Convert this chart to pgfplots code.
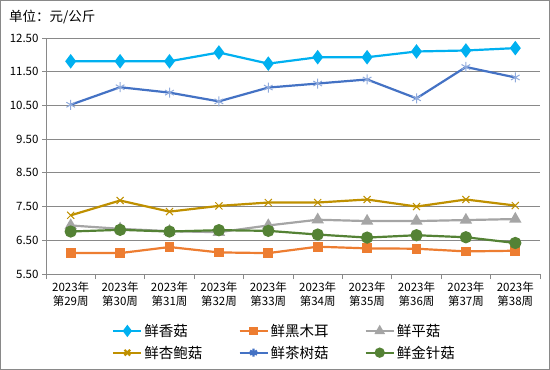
\documentclass[border=0pt]{standalone}
\usepackage{fontspec}
\setmainfont{Noto Sans CJK SC}
\usepackage{pgfplots}
\pgfplotsset{compat=1.18}
\definecolor{cxg}{HTML}{00B0F0}
\definecolor{chme}{HTML}{ED7D31}
\definecolor{cpg}{HTML}{A5A5A5}
\definecolor{cxbg}{HTML}{BF9000}
\definecolor{ccsg}{HTML}{4472C4}
\definecolor{ccsgm}{HTML}{8FAADC}
\definecolor{cjzg}{HTML}{548235}
\definecolor{cgrid}{HTML}{898989}
\newcommand{\legbox}[1]{\makebox[60bp][l]{#1}}
\begin{document}
\begin{tikzpicture}
\useasboundingbox (0,0) rectangle (550bp,370bp);
\draw[cgrid,line width=1bp] (0.5bp,0.5bp) rectangle (549.5bp,369.5bp);
\node[anchor=west,font=\fontsize{13.5bp}{16bp}\selectfont,inner sep=0] at (9bp,353bp) {单位：元/公斤};
\begin{axis}[
  at={(46bp,96bp)}, anchor=south west,
  scale only axis, width=494bp, height=236bp,
  xmin=-0.5, xmax=9.5, ymin=5.5, ymax=12.5,
  axis x line*=bottom, axis y line*=left,
  axis line style={cgrid, line width=0.8bp},
  xtick={0,...,9},
  xticklabels={{2023年\\第29周},{2023年\\第30周},{2023年\\第31周},{2023年\\第32周},{2023年\\第33周},{2023年\\第34周},{2023年\\第35周},{2023年\\第36周},{2023年\\第37周},{2023年\\第38周}},
  x tick label style={align=center,font=\fontsize{11.5bp}{14bp}\selectfont},
  major x tick style={draw=none},
  minor xtick={-0.5,0.5,...,9.5},
  minor tick length=5bp,
  minor x tick style={cgrid, line width=0.8bp},
  ytick={5.5,6.5,...,12.5},
  y tick label style={font=\fontsize{11.5bp}{14bp}\selectfont},
  yticklabel style={/pgf/number format/.cd, fixed, fixed zerofill, precision=2, assume math mode=true},
  major y tick style={cgrid, line width=0.8bp},
  major tick length=4bp,
  tick align=outside,
  ymajorgrids, grid style={cgrid, line width=0.8bp},
  legend columns=3,
  legend style={at={(0.1337,-0.203)}, anchor=north west, draw=none, fill=none,
    font=\fontsize{14.5bp}{17bp}\selectfont, inner sep=0pt,
    /tikz/every even column/.append style={column sep=32bp},
    row sep=4bp},
  legend cell align=left,
  legend image code/.code={\draw[mark repeat=2,mark phase=2,mark options={scale=0.8}] plot coordinates {(0bp,0bp)(14bp,0bp)(28bp,0bp)};},
  every axis plot/.append style={line width=2.2bp},
]
\addplot[cxg, mark=diamond*, mark size=5.5bp, mark options={fill=cxg}] coordinates {(0,11.81)(1,11.81)(2,11.81)(3,12.07)(4,11.74)(5,11.93)(6,11.93)(7,12.10)(8,12.13)(9,12.20)};
\addlegendentry{\legbox{鲜香菇}}
\addplot[chme, mark=square*, mark size=3.8bp, mark options={fill=chme}] coordinates {(0,6.12)(1,6.12)(2,6.30)(3,6.14)(4,6.12)(5,6.31)(6,6.26)(7,6.25)(8,6.17)(9,6.19)};
\addlegendentry{\legbox{鲜黑木耳}}
\addplot[cpg, mark=triangle*, mark size=5bp, mark options={fill=cpg}] coordinates {(0,6.94)(1,6.84)(2,6.77)(3,6.74)(4,6.94)(5,7.11)(6,7.07)(7,7.07)(8,7.10)(9,7.13)};
\addlegendentry{\legbox{鲜平菇}}
\addplot[cxbg, mark=x, mark size=5bp, mark options={line width=1bp}] coordinates {(0,7.24)(1,7.68)(2,7.35)(3,7.52)(4,7.62)(5,7.62)(6,7.71)(7,7.50)(8,7.71)(9,7.53)};
\addlegendentry{\legbox{鲜杏鲍菇}}
\addplot[ccsg, mark=asterisk, mark size=5bp, mark options={ccsgm, line width=1bp}] coordinates {(0,10.52)(1,11.04)(2,10.88)(3,10.62)(4,11.03)(5,11.15)(6,11.27)(7,10.71)(8,11.64)(9,11.33)};
\addlegendentry{\legbox{鲜茶树菇}}
\addplot[cjzg, mark=*, mark size=5bp, mark options={fill=cjzg}] coordinates {(0,6.76)(1,6.81)(2,6.76)(3,6.80)(4,6.78)(5,6.67)(6,6.58)(7,6.65)(8,6.59)(9,6.42)};
\addlegendentry{\legbox{鲜金针菇}}
\end{axis}
\end{tikzpicture}
\end{document}
